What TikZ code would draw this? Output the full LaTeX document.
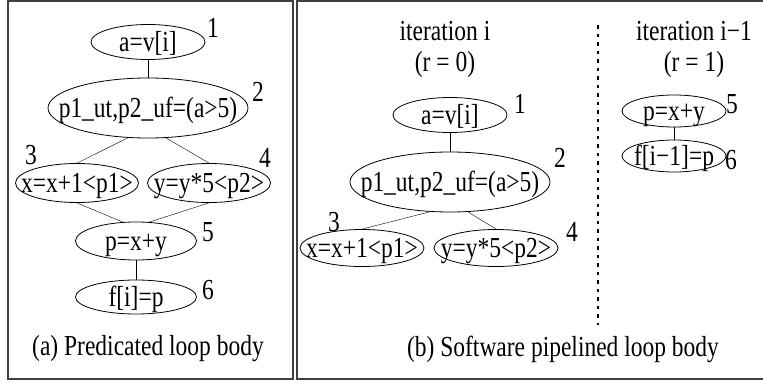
\documentclass[tikz,border=0pt]{standalone}
\usepackage{fontspec}
\setmainfont[FakeStretch=0.81]{Liberation Serif}
\usetikzlibrary{shapes.geometric}

\newcommand{\optext}[1]{\raisebox{-.33em}[0pt][0pt]{\makebox[0pt]{#1}}}

\begin{document}
\begin{tikzpicture}[x=1pt,y=-1pt,
  every node/.style={font=\fontsize{29}{31}\selectfont},
  op/.style={draw=black,ellipse,inner sep=0pt,line width=0.8pt},
  num/.style={inner sep=0pt},
  panel/.style={line width=1.2pt,draw=black!75}]
  \useasboundingbox (0,0) rectangle (763,383);
  \draw[panel] (8,1) rectangle (293,379);
  \draw[panel] (763,1) -- (297,1) -- (297,379) -- (763,379);
  % (a) predicated loop body
  \node[op,minimum width=114pt,minimum height=35pt] (a1) at (148,42) {\optext{a=v[i]}};
  \node[op,minimum width=200pt,minimum height=60pt] (a2) at (148,108) {\optext{p1\_ut,p2\_uf=(a>5)}};
  \node[op,minimum width=123pt,minimum height=39pt] (a3) at (77,183) {\optext{x=x+1<p1>}};
  \node[op,minimum width=123pt,minimum height=39pt] (a4) at (209,183) {\optext{y=y*5<p2>}};
  \node[op,minimum width=121pt,minimum height=38pt] (a5) at (136,241) {\optext{p=x+y}};
  \node[op,minimum width=121pt,minimum height=34pt] (a6) at (136,297) {\optext{f[i]=p}};
  \node[num] (na1) at (213,28) {1};
  \node[num] (na2) at (258,92) {2};
  \node[num] (na3) at (31,155) {3};
  \node[num] (na4) at (265,158) {4};
  \node[num] (na5) at (208,232) {5};
  \node[num] (na6) at (208,290) {6};
  \draw (a1) -- (a2);
  \draw (a2.236) -- (a3.north);
  \draw (a2.301) -- (a4.north);
  \draw (a3.south) -- (a5.125);
  \draw (a4.south) -- (a5.55);
  \draw (a5) -- (a6);
  \node (capa) at (148,349) {(a) Predicated loop body};
  % (b) software pipelined, stage r = 0
  \node[align=center] (itr0) at (445,49) {iteration i\\(r = 0)};
  \node[op,minimum width=114pt,minimum height=35pt] (b1) at (450,115) {\optext{a=v[i]}};
  \node[op,minimum width=200pt,minimum height=60pt] (b2) at (450,182) {\optext{p1\_ut,p2\_uf=(a>5)}};
  \node[op,minimum width=124pt,minimum height=37pt] (b3) at (362,248) {\optext{x=x+1<p1>}};
  \node[op,minimum width=124pt,minimum height=37pt] (b4) at (496,248) {\optext{y=y*5<p2>}};
  \node[num] (nb1) at (520,104) {1};
  \node[num] (nb2) at (560,158) {2};
  \node[num] (nb3) at (334,222) {3};
  \node[num] (nb4) at (572,232) {4};
  \draw (b1) -- (b2);
  \draw (b2.236) -- (b3.north);
  \draw (b2.301) -- (b4.north);
  % stage r = 1
  \coordinate (sepTop) at (598,25);
  \coordinate (sepBot) at (598,325);
  \draw[line width=2.5pt,dash pattern=on 3.5pt off 5pt] (sepTop) -- (sepBot);
  \node[align=center] (itr1) at (694,49) {iteration i−1\\(r = 1)};
  \node[op,minimum width=104pt,minimum height=32pt] (c1) at (674,111) {\optext{p=x+y}};
  \node[op,minimum width=104pt,minimum height=32pt] (c2) at (674,156) {\optext{f[i−1]=p}};
  \node[num] (nc1) at (732,104) {5};
  \node[num] (nc2) at (731,160) {6};
  \draw (c1) -- (c2);
  \node (capb) at (563,349) {(b) Software pipelined loop body};
\end{tikzpicture}
\end{document}
